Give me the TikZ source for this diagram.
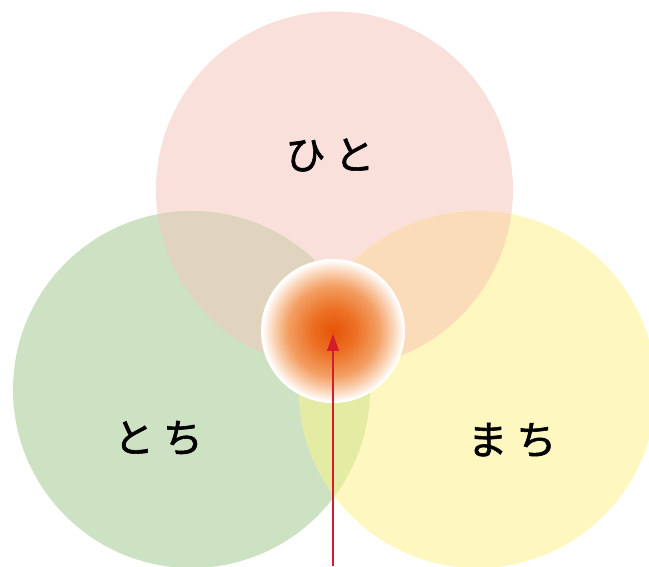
\documentclass[tikz,border=0pt]{standalone}
\usepackage{fontspec}
\newfontfamily\jpfont{Noto Sans CJK JP}[FakeBold=1.5]
\usetikzlibrary{arrows.meta,positioning}

% core glow colors (centre to rim)
\definecolor{core1}{HTML}{E65308}
\definecolor{core2}{HTML}{EC7125}
\definecolor{core3}{HTML}{F39F64}
\definecolor{core4}{HTML}{FAD3B5}
\pgfdeclareradialshading{coreglow}{\pgfpointorigin}{color(0bp)=(core1); color(8bp)=(core2); color(16bp)=(core3); color(21bp)=(core4); color(25bp)=(white); color(50bp)=(white)}

\begin{document}
\begin{tikzpicture}[
    x=1pt, y=1pt,
    ring/.style={circle, minimum size=357pt, inner sep=0pt},
    core/.style={circle, minimum size=142pt, inner sep=0pt, shade, shading=coreglow, draw=white, line width=2pt},
    word/.style={font=\jpfont\fontsize{40}{46}\selectfont, text=black},
    arr/.style={-{Triangle[length=17pt, width=12pt]}, line width=1.3pt, draw=arrowred}
]

% Circle colors
\definecolor{hitoc}{HTML}{F9E0DB}
\definecolor{tochic}{HTML}{CDE2C3}
\definecolor{machic}{HTML}{FEF8C0}
% Overlap colors
\definecolor{hitotochic}{HTML}{E0D4BE}
\definecolor{hitomachic}{HTML}{FADCB8}
\definecolor{tochimachic}{HTML}{E4EBA2}
\definecolor{arrowred}{HTML}{D21D2B}

\def\ringr{178.5pt}

\clip (0,0) rectangle (649,566);

% Three circles
\node[ring, fill=hitoc] (hito) at (334.5, 376) {};
\node[ring, fill=tochic] (tochi) at (191.5, 176.5) {};
\node[ring, fill=machic] (machi) at (477.5, 176.5) {};

% Overlaps
\begin{scope}
    \clip (hito.center) circle (\ringr);
    \fill[hitotochic] (tochi.center) circle (\ringr);
    \fill[hitomachic] (machi.center) circle (\ringr);
\end{scope}
\begin{scope}
    \clip (tochi.center) circle (\ringr);
    \fill[tochimachic] (machi.center) circle (\ringr);
\end{scope}

% Labels
\node[word] (hitolabel) at (330, 411) {ひ と};
\node[word] (tochilabel) at (158.5, 128) {と ち};
\node[word] (machilabel) at (512, 126) {ま ち};

% Centre
\node[core] (centre) at (333, 235) {};

% Arrow from below
\coordinate (base) at (333, 0);
\draw[arr, shorten >=3pt] (base) -- (centre.center);

\end{tikzpicture}
\end{document}
